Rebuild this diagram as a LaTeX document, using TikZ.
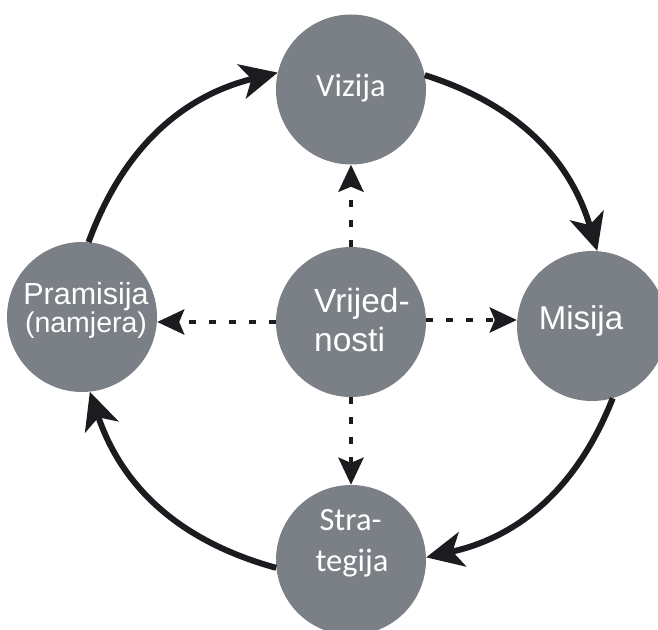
\documentclass[tikz,border=0pt]{standalone}
\usepackage{fontspec}
\setmainfont{Liberation Sans}
\newfontfamily\calib{Carlito}
\usetikzlibrary{arrows.meta}
\definecolor{circgray}{RGB}{123,127,134}
\definecolor{arrblack}{RGB}{28,28,32}
\begin{document}
\begin{tikzpicture}[x=1pt,y=1pt,
  bub/.style={circle, fill=circgray, minimum size=150pt, inner sep=0pt},
  wtxt/.style={text=white, anchor=base, inner sep=0pt},
  arialbig/.style={wtxt, font=\fontsize{33.5}{36}\selectfont},
  calibbig/.style={wtxt, font=\calib\fontsize{32.5}{36}\selectfont},
  cyc/.style={draw=arrblack, line width=6pt, -{Stealth[length=37pt,width=35pt,inset=10pt]}},
  dasharr/.style={draw=arrblack, line width=4.5pt, dash pattern=on 7pt off 13pt,
     -{Stealth[length=27pt,width=25pt,inset=5pt]}}
]
\useasboundingbox (0,0) rectangle (658,629);
\clip (0,0) rectangle (658,629);
% circles
\node[bub] (V)  at (351,539.5) {};
\node[bub] (Vr) at (351,307) {};
\node[bub] (P)  at (82,312) {};
\node[bub] (M)  at (592,303) {};
\node[bub] (S)  at (351,69) {};
% texts
\node[calibbig] (Vt) at (351,532.5) {Vizija};
\node[calibbig] (St1) at (350.5,98.3) {Stra-};
\node[calibbig] (St2) at (352,57.3) {tegija};
\node[arialbig, anchor=base west] (Vrt1) at (314,316.3) {Vrijed-};
\node[arialbig, anchor=base west] (Vrt2) at (314,277.3) {nosti};
\node[wtxt, font=\fontsize{33}{36}\selectfont] (Mt) at (581,299) {Misija};
\node[wtxt, font=\fontsize{30.5}{34}\selectfont] (Pt1) at (86,324) {Pramisija};
\node[wtxt, font=\fontsize{28.5}{32}\selectfont] (Pt2) at (86,296) {(namjera)};
% cycle arrows
\draw[cyc] (P.85) to[bend left=28] (V.167);
\draw[cyc] (V.11) to[bend left=28] (M.86);
\draw[cyc] (M.-74) to[bend left=28] (S.2);
\draw[cyc] (S.186) to[bend left=28] (P.-84);
% dashed arrows
\draw[dasharr] (Vr.north) -- (V.south);
\draw[dasharr] (Vr.south) -- (S.north);
\draw[dasharr] (Vr.west) -- (Vr.west -| P.east);
\draw[dasharr] ([yshift=2pt]Vr.east) -- ([yshift=2pt]Vr.east -| M.west);
\end{tikzpicture}
\end{document}
